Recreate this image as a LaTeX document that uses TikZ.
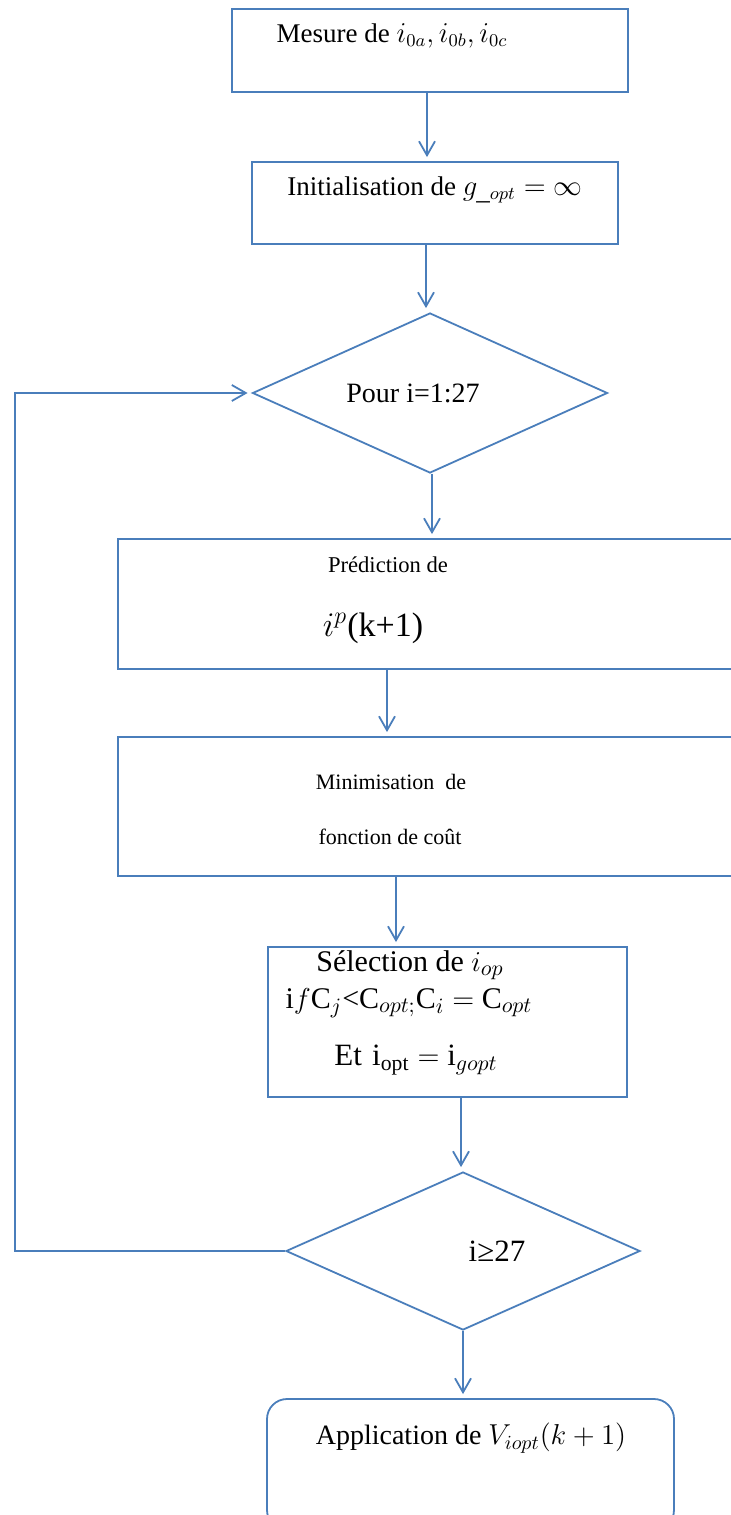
\documentclass[tikz,border=0pt]{standalone}
\usepackage{fontspec}
\setmainfont{Liberation Serif}
\usetikzlibrary{shapes.geometric,arrows.meta}
\definecolor{lineblue}{RGB}{74,126,187}

\begin{document}
\begin{tikzpicture}[x=0.5pt,y=-0.5pt,line width=0.9pt,
        >={Straight Barb[length=7pt,width=8pt]},
        box/.style={draw=lineblue,rectangle,inner sep=0pt},
        test/.style={draw=lineblue,diamond,inner sep=0pt},
        flow/.style={->,draw=lineblue,shorten >=2pt},
        every node/.append style={font=\fontsize{13.5}{16}\selectfont}]
        \clip (0,0) rectangle (731,1515);
        % boxes and tests
        \node[box,minimum width=198pt,minimum height=41.5pt] (mesure) at (430,50.5) {};
        \node[box,minimum width=183pt,minimum height=41pt] (init) at (435,203) {};
        \node[test,minimum width=177.5pt,minimum height=80pt] (pour) at (430,393) {};
        \node[box,minimum width=311pt,minimum height=65pt] (predict) at (429,604) {};
        \node[box,minimum width=311pt,minimum height=69.5pt] (minim) at (429,806.5) {};
        \node[box,minimum width=179.5pt,minimum height=75pt] (select) at (447.5,1022) {};
        \node[test,minimum width=177pt,minimum height=79pt] (fin) at (463,1251) {};
        \node[box,rounded corners=10pt,minimum width=203.5pt,minimum height=65.5pt] (appli) at (470.5,1464.5) {};
        % texts
        \node (tmesure) at (392,36) {Mesure de $i_{0a}, i_{0b}, i_{0c}$};
        \node (tinit) at (435,190) {Initialisation de $g_{\_opt} = \infty$};
        \node[font=\fontsize{14}{16}\selectfont] (tpour) at (413,393) {Pour i=1:27};
        \node[font=\fontsize{11.3}{13}\selectfont] (tpred) at (388,565) {Prédiction de};
        \node[font=\fontsize{17}{19}\selectfont] (tip) at (373,628) {$i^p$(k+1)};
        \node[font=\fontsize{11}{13}\selectfont] (tmin) at (391,782) {Minimisation\ \ de};
        \node[font=\fontsize{11}{13}\selectfont] (tcout) at (390,837) {fonction de coût};
        \node[font=\fontsize{15}{17}\selectfont,inner sep=1pt] (tsel) at (410,965) {Sélection de $i_{op}$};
        \node[font=\fontsize{15}{17}\selectfont,inner sep=1pt] (tif) at (409,1003) {i$f$C$_j$<C$_{opt;}$C$_i =$ C$_{opt}$};
        \node[font=\fontsize{15.5}{18}\selectfont] (tet) at (416,1060) {Et\,\,i$_{\rm opt} =$ i$_{gopt}$};
        \node[font=\fontsize{15.5}{18}\selectfont] (tfin) at (497,1251) {i≥27};
        \node[font=\fontsize{14}{16}\selectfont] (tappli) at (471,1438) {Application de $V_{iopt}(k+1)$};
        % connectors
        \draw[flow] (mesure.south -| 427,0) -- (init.north -| 427,0);
        \draw[flow] (init.south -| 426,0) -- (pour.north -| 426,0);
        \draw[flow] (pour.south -| 432,0) -- (predict.north -| 432,0);
        \draw[flow] (predict.south -| 387,0) -- (minim.north -| 387,0);
        \draw[flow] (minim.south -| 396,0) -- (select.north -| 396,0);
        \draw[flow] (select.south -| 461,0) -- (fin.north -| 461,0);
        \draw[flow] (fin.south) -- (appli.north -| fin.south);
        \coordinate (loop) at (15,1251);
        \draw[flow] (fin.west) -- (loop) |- (pour.west);
\end{tikzpicture}
\end{document}
